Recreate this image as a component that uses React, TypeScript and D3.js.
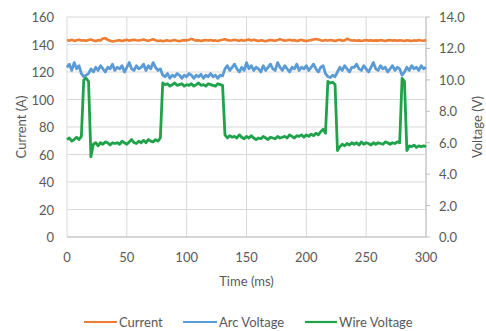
import React from "react";
import * as d3 from "d3";

const W = 486;
const H = 331;

const T_STEP = 2; // ms between samples

const current: number[] = [
  143.2, 142.8, 143.5, 142.6, 143.1, 143.4, 142.9, 143.0, 142.7, 143.3,
  143.6, 142.9, 142.5, 143.2, 143.0, 144.3, 144.6, 143.4, 142.8, 142.2,
  142.5, 142.9, 143.1, 142.6, 143.0, 143.4, 142.8, 143.2, 143.5, 143.1,
  142.9, 143.3, 143.6, 143.0, 142.7, 143.2, 143.8, 143.1, 142.6, 142.9,
  142.4, 142.8, 143.0, 142.5, 142.9, 143.3, 142.7, 142.4, 142.9, 143.2,
  143.0, 143.5, 144.1, 143.4, 142.8, 143.1, 142.6, 143.0, 143.3, 142.9,
  143.2, 142.7, 143.0, 142.5, 143.1, 143.4, 143.8, 143.2, 142.9, 143.1,
  143.5, 143.0, 142.7, 143.3, 142.8, 143.2, 143.6, 142.9, 143.4, 143.0,
  142.6, 143.1, 142.8, 142.4, 142.9, 143.3, 143.0, 142.7, 143.2, 143.9,
  143.3, 142.8, 143.1, 143.5, 142.9, 143.2, 142.6, 143.0, 143.4, 142.8,
  142.5, 142.9, 143.2, 143.7, 144.0, 143.6, 143.1, 142.7, 143.2, 142.9,
  143.3, 143.0, 142.6, 143.1, 143.4, 142.8, 143.0, 144.2, 143.5, 142.9,
  143.1, 142.7, 143.0, 142.6, 142.9, 143.2, 142.8, 143.1, 142.7, 143.0,
  142.8, 143.2, 142.9, 142.6, 143.0, 143.3, 142.8, 143.1, 142.7, 143.0,
  142.9, 142.6, 143.1, 142.8, 142.5, 143.0, 142.7, 143.2, 142.9, 142.7,
  143.3,
];

const arcVoltage: number[] = [
  10.8, 11.0, 10.6, 11.1, 10.7, 10.9, 10.4, 10.2, 10.3, 10.4,
  10.7, 10.5, 10.8, 10.6, 10.9, 10.7, 10.5, 10.8, 10.7, 11.0,
  10.6, 10.8, 10.7, 10.9, 10.5, 10.8, 11.1, 10.7, 10.6, 10.9,
  10.7, 10.8, 11.0, 10.6, 10.9, 10.7, 11.1, 10.8, 10.6, 10.7,
  10.3, 10.2, 10.4, 10.1, 10.3, 10.2, 10.4, 10.3, 10.1, 10.3,
  10.2, 10.4, 10.3, 10.1, 10.3, 10.2, 10.35, 10.1, 10.3, 10.2,
  10.4, 10.2, 10.3, 10.1, 10.3, 10.25, 10.7, 10.9, 10.6, 10.8,
  11.0, 10.7, 10.5, 10.8, 10.6, 11.1, 10.7, 10.9, 10.6, 10.8,
  10.7, 10.5, 10.9, 10.6, 10.8, 11.0, 10.7, 10.6, 11.1, 10.8,
  10.6, 10.9, 10.7, 10.5, 10.8, 10.7, 11.0, 10.6, 10.8, 10.7,
  10.9, 10.6, 10.8, 11.0, 10.7, 10.5, 10.8, 10.9, 10.4, 10.2,
  10.15, 10.3, 10.2, 10.5, 10.8, 10.6, 10.9, 10.7, 10.5, 10.8,
  10.8, 11.0, 10.7, 10.6, 10.9, 10.7, 10.5, 10.8, 11.1, 10.7,
  10.6, 10.9, 10.7, 10.8, 10.5, 10.7, 10.9, 10.6, 10.8, 10.7,
  10.3, 10.5, 10.8, 10.6, 10.9, 10.7, 10.8, 10.6, 10.9, 10.7,
  10.8,
];

const wireVoltage: number[] = [
  6.2, 6.3, 6.1, 6.2, 6.35, 6.2, 6.4, 10.0, 10.1, 9.9,
  5.1, 5.9, 6.0, 5.8, 6.0, 5.9, 6.05, 6.0, 5.85, 6.0,
  5.95, 6.0, 5.9, 6.1, 6.0, 5.9, 6.05, 6.2, 6.0, 5.95,
  6.1, 6.0, 6.15, 6.0, 6.2, 6.1, 6.05, 6.2, 6.1, 6.3,
  9.8, 9.7, 9.75, 9.6, 9.7, 9.8, 9.65, 9.7, 9.75, 9.6,
  9.7, 9.65, 9.75, 9.6, 9.7, 9.8, 9.65, 9.7, 9.6, 9.75,
  9.7, 9.65, 9.6, 9.75, 9.7, 9.65, 6.5, 6.3, 6.45, 6.35,
  6.4, 6.3, 6.5, 6.35, 6.25, 6.4, 6.3, 6.45, 6.3, 6.2,
  6.3, 6.25, 6.4, 6.3, 6.2, 6.35, 6.3, 6.25, 6.4, 6.3,
  6.35, 6.4, 6.3, 6.5, 6.4, 6.3, 6.45, 6.4, 6.5, 6.35,
  6.5, 6.4, 6.55, 6.45, 6.6, 6.5, 6.7, 6.85, 6.6, 9.9,
  9.8, 9.85, 9.7, 5.5, 5.75, 5.9, 5.8, 5.95, 5.85, 6.0,
  5.9, 6.0, 5.85, 6.05, 5.9, 6.0, 5.95, 5.85, 6.0, 5.9,
  6.0, 5.95, 5.9, 6.05, 6.0, 5.9, 6.0, 5.95, 6.05, 6.0,
  10.1, 9.9, 5.5, 5.8, 5.75, 5.85, 5.7, 5.8, 5.75, 5.8,
  5.75,
];

const xTicks = [0, 50, 100, 150, 200, 250, 300];
const yLeftTicks = [0, 20, 40, 60, 80, 100, 120, 140, 160];
const yRightTicks = [0, 2, 4, 6, 8, 10, 12, 14];

const seriesNames = ["Current", "Arc Voltage", "Wire Voltage"];
const seriesColors = ["#ED7D31", "#5B9BD5", "#1FA24A"];

const FONT = "Lato, 'Open Sans', sans-serif";
const TEXT = "#595959";
const GRID = "#d9d9d9";

export default function App() {
  const left = 67;
  const right = 426;
  const top = 17;
  const bottom = 237;

  const x = d3.scaleLinear().domain([0, 300]).range([left, right]);
  const yL = d3.scaleLinear().domain([0, 160]).range([bottom, top]);
  const yR = d3.scaleLinear().domain([0, 14]).range([bottom, top]);

  const lineL = d3
    .line<number>()
    .x((_, i) => x(i * T_STEP))
    .y((d) => yL(d));
  const lineR = d3
    .line<number>()
    .x((_, i) => x(i * T_STEP))
    .y((d) => yR(d));

  const legendItems = [
    { x0: 84, tx: 119 },
    { x0: 183, tx: 219 },
    { x0: 305, tx: 339 },
  ];

  return (
    <svg
      width={W}
      height={H}
      style={{ position: "absolute", left: 0, top: 0, background: "#fff" }}
      fontFamily={FONT}
    >
      <rect x={0} y={0} width={W} height={H} fill="#fff" />
      {yLeftTicks.map((t) => (
        <line
          key={"hg" + t}
          x1={left}
          x2={right}
          y1={yL(t)}
          y2={yL(t)}
          stroke={GRID}
          strokeWidth={1}
        />
      ))}
      {xTicks.map((t) => (
        <line
          key={"vg" + t}
          x1={x(t)}
          x2={x(t)}
          y1={top}
          y2={bottom}
          stroke={GRID}
          strokeWidth={1}
        />
      ))}
      <line x1={right} x2={right} y1={top} y2={bottom} stroke="#bfbfbf" />
      {yRightTicks.map((t) => (
        <line
          key={"rt" + t}
          x1={right}
          x2={right + 4}
          y1={yR(t)}
          y2={yR(t)}
          stroke="#bfbfbf"
        />
      ))}
      <line x1={left} x2={right} y1={bottom} y2={bottom} stroke="#bfbfbf" />

      <path
        d={lineL(current) || ""}
        fill="none"
        stroke={seriesColors[0]}
        strokeWidth={2.6}
        strokeLinejoin="round"
      />
      <path
        d={lineR(arcVoltage) || ""}
        fill="none"
        stroke={seriesColors[1]}
        strokeWidth={2.8}
        strokeLinejoin="round"
      />
      <path
        d={lineR(wireVoltage) || ""}
        fill="none"
        stroke={seriesColors[2]}
        strokeWidth={2.8}
        strokeLinejoin="round"
      />

      {yLeftTicks.map((t) => (
        <text
          key={"ll" + t}
          x={54}
          y={yL(t)}
          textAnchor="end"
          dominantBaseline="central"
          fontSize={13}
          fill={TEXT}
        >
          {t}
        </text>
      ))}
      {yRightTicks.map((t) => (
        <text
          key={"rl" + t}
          x={439}
          y={yR(t)}
          textAnchor="start"
          dominantBaseline="central"
          fontSize={13}
          fill={TEXT}
        >
          {t.toFixed(1)}
        </text>
      ))}
      {xTicks.map((t) => (
        <text
          key={"xl" + t}
          x={x(t)}
          y={257}
          textAnchor="middle"
          dominantBaseline="central"
          fontSize={13}
          fill={TEXT}
        >
          {t}
        </text>
      ))}

      <text
        x={(left + right) / 2}
        y={281}
        textAnchor="middle"
        dominantBaseline="central"
        fontSize={13}
        fill={TEXT}
      >
        Time (ms)
      </text>
      <text
        transform={`translate(21, ${(top + bottom) / 2}) rotate(-90)`}
        textAnchor="middle"
        dominantBaseline="central"
        fontSize={13}
        fill={TEXT}
      >
        Current (A)
      </text>
      <text
        transform={`translate(477, ${(top + bottom) / 2}) rotate(-90)`}
        textAnchor="middle"
        dominantBaseline="central"
        fontSize={13}
        fill={TEXT}
      >
        Voltage (V)
      </text>

      {seriesNames.map((name, i) => (
        <g key={name}>
          <line
            x1={legendItems[i].x0}
            x2={legendItems[i].tx - 2}
            y1={322}
            y2={322}
            stroke={seriesColors[i]}
            strokeWidth={2.2}
          />
          <text
            x={legendItems[i].tx}
            y={322}
            dominantBaseline="central"
            fontSize={13}
            fill={TEXT}
          >
            {name}
          </text>
        </g>
      ))}
    </svg>
  );
}
